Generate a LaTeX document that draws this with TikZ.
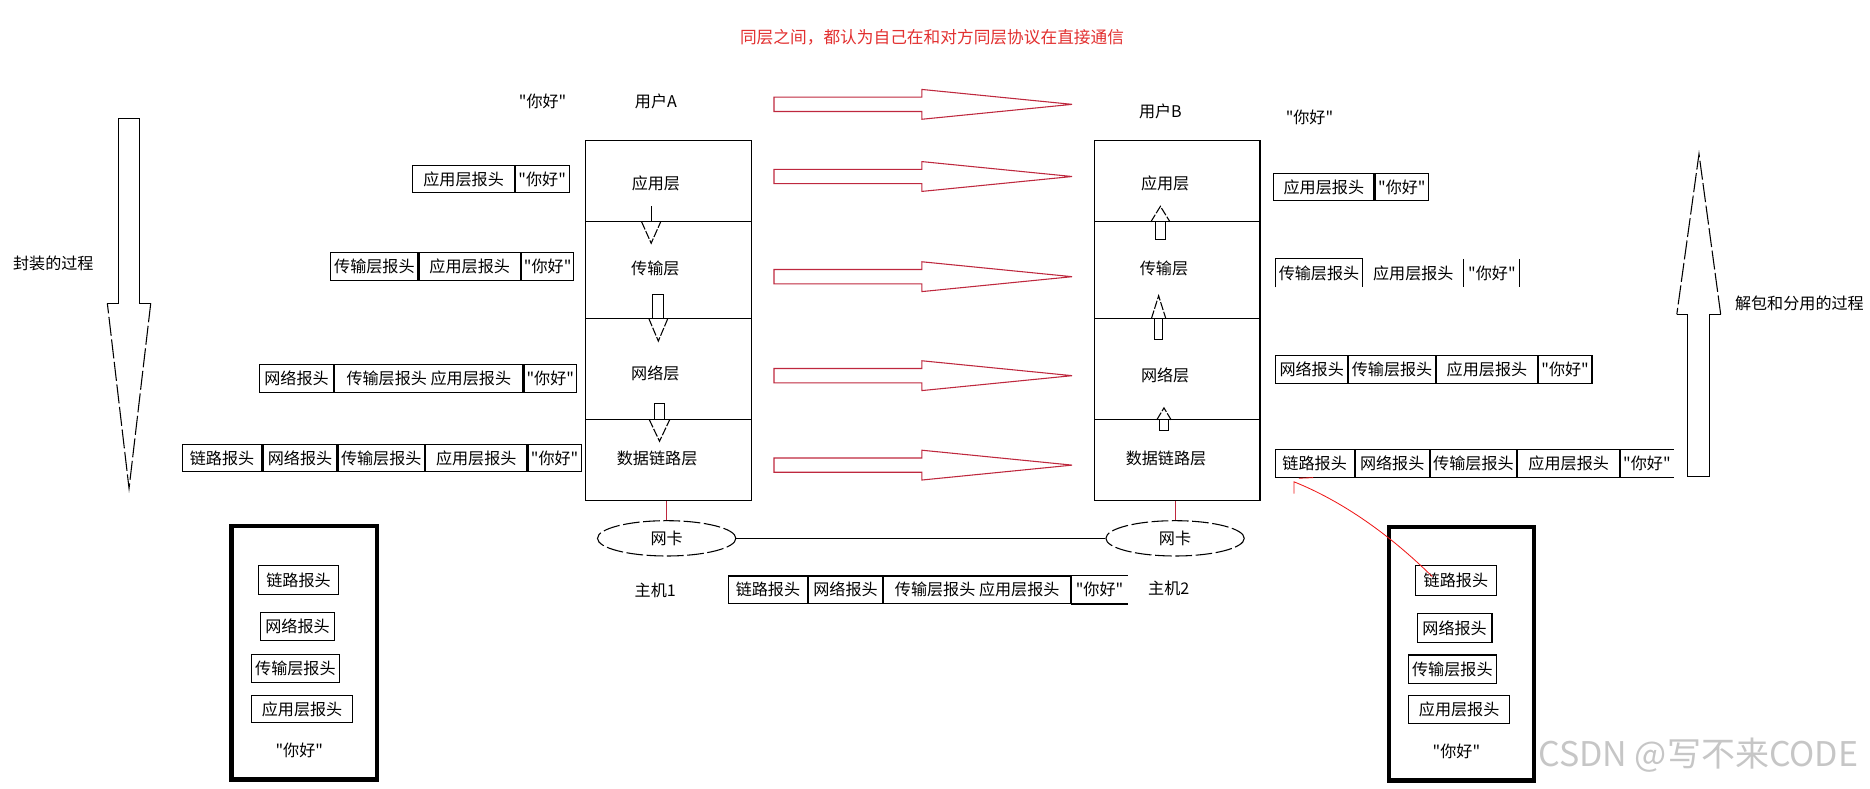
\documentclass[tikz,border=0pt]{standalone}
\usepackage{fontspec}
\newfontfamily\cjk{Noto Sans CJK SC}
\usetikzlibrary{shapes.geometric}

\definecolor{peerred}{RGB}{190,40,62}
\definecolor{notered}{RGB}{226,48,48}
\definecolor{linkred}{RGB}{238,24,24}

\tikzset{
  every node/.style={font=\cjk\fontsize{13.5pt}{15pt}\selectfont},
  laybox/.style={draw, minimum width=139pt, inner sep=0pt},
  hdr/.style={draw, inner sep=0pt, minimum height=23pt, anchor=west},
  bare/.style={inner sep=0pt, minimum height=23pt, anchor=west},
  holder/.style={draw, line width=3.6pt, inner sep=0pt},
  inbox/.style={draw, inner sep=0pt},
  nic/.style={draw, ellipse, dash pattern=on 14pt off 3pt, minimum width=116pt, minimum height=29.6pt, inner sep=0pt},
  peer/.style={draw=peerred},
  tipdash/.style={dash pattern=on 7pt off 1.5pt},
  bigdash/.style={dash pattern=on 16pt off 3pt}
}

\begin{document}
\begin{tikzpicture}[x=1pt, y=-1pt, line width=0.9pt]
            \useasboundingbox (0,0) rectangle (1568,661);

            % Titolo
            \node[text=notered, font=\cjk\fontsize{14pt}{16pt}\selectfont] (title) at (781.5,31) {同层之间，都认为自己在和对方同层协议在直接通信};

            % Utenti
            \node (msgA) at (455,85) {"你好"};
            \node (userA) at (550,85) {用户A};
            \node (userB) at (973,93.6) {用户B};
            \node (msgB) at (1098,98.4) {"你好"};

            % Host 1
            \node[laybox, minimum height=68pt] (A1) at (560.5,152) {};
            \node[laybox, minimum height=81pt] (A2) at (560.5,226.5) {};
            \node[laybox, minimum height=85pt] (A3) at (560.5,309.5) {};
            \node[laybox, minimum height=68pt] (A4) at (560.5,386) {};
            \node (tA1) at (550,153.7) {应用层};
            \node (tA2) at (549.5,225) {传输层};
            \node (tA3) at (549.5,313) {网络层};
            \node (tA4) at (551,384.3) {数据链路层};

            % Host 2
            \node[laybox, minimum height=68pt] (B1) at (987,152) {};
            \node[laybox, minimum height=81pt] (B2) at (987,226.5) {};
            \node[laybox, minimum height=85pt] (B3) at (987,309.5) {};
            \node[laybox, minimum height=68pt] (B4) at (987,386) {};
            \node (tB1) at (977,153.7) {应用层};
            \node (tB2) at (976,225) {传输层};
            \node (tB3) at (977,314.4) {网络层};
            \node (tB4) at (977.7,384.3) {数据链路层};

            % Frecce giu
            \draw (546,173) -- (546,186);
            \draw[tipdash] (538,186) -- (546,204) -- (554,186);
            \draw (547.5,267) -- (547.5,247) -- (556.5,247) -- (556.5,267);
            \draw[tipdash] (544,267) -- (552,286) -- (560,267);
            \draw (549,352) -- (549,338) -- (557,338) -- (557,352);
            \draw[tipdash] (544.5,352) -- (553,370) -- (561.5,352);

            % Frecce su
            \draw[tipdash] (965,186) -- (973,173) -- (981,186);
            \draw (969,186) -- (969,201) -- (977,201) -- (977,186);
            \draw[tipdash] (965.5,267) -- (971.5,248) -- (977.5,267);
            \draw (968,267) -- (968,285) -- (975,285) -- (975,267);
            \draw[tipdash] (970,352) -- (976,342) -- (982,352);
            \draw (972.5,352) -- (972.5,361) -- (979.5,361) -- (979.5,352);

            % Frecce rosse
            \foreach \yy in {87.5,148,232,315,390}
              \draw[peer] (649,{\yy-6}) -- (773,{\yy-6}) -- (773,{\yy-12.5}) -- (899,\yy)
                -- (773,{\yy+12.5}) -- (773,{\yy+6}) -- (649,{\yy+6}) -- cycle;

            % Incapsulamento
            \draw (90,254.3) -- (99.2,254.3) -- (99.2,99.2) -- (116.8,99.2) -- (116.8,254.3) -- (126.4,254.3);
            \draw[bigdash] (126.4,254.3) -- (108.2,409.5) -- (90,254.3);
            \node (enc) at (44.7,221) {封装的过程};

            % Decapsulamento
            \draw (1406,263.6) -- (1414.8,263.6) -- (1414.8,399.7) -- (1433.3,399.7) -- (1433.3,263.6) -- (1442.8,263.6);
            \draw[bigdash] (1442.8,263.6) -- (1424.6,129.1) -- (1406,263.6);
            \node[anchor=west] (dec) at (1451,254) {解包和分用的过程};

            % Pacchetti a sinistra
            \node[hdr, minimum width=85pt] (a1h) at (345.8,150) {应用层报头};
            \node[hdr, minimum width=45pt] (a1d) at (a1h.east) {"你好"};

            \node[hdr, minimum width=73pt] (a2t) at (277,223.5) {传输层报头};
            \node[hdr, minimum width=85pt] (a2h) at (a2t.east) {应用层报头};
            \node[hdr, minimum width=44pt] (a2d) at (a2h.east) {"你好"};

            \node[hdr, minimum width=62pt] (a3n) at (217.2,317.5) {网络报头};
            \node[hdr, minimum width=158pt] (a3t) at (a3n.east) {传输层报头\ 应用层报头};
            \node[hdr, minimum width=44pt] (a3d) at (a3t.east) {"你好"};

            \node[hdr, minimum width=67pt] (a4l) at (152.2,384) {链路报头};
            \node[hdr, minimum width=62pt] (a4n) at (a4l.east) {网络报头};
            \node[hdr, minimum width=72.5pt] (a4t) at (a4n.east) {传输层报头};
            \node[hdr, minimum width=85pt] (a4h) at (a4t.east) {应用层报头};
            \node[hdr, minimum width=44.6pt] (a4d) at (a4h.east) {"你好"};

            % Pacchetti a destra
            \node[hdr, minimum width=84pt] (b1h) at (1067.6,157) {应用层报头};
            \node[hdr, minimum width=45pt] (b1d) at (b1h.east) {"你好"};

            \node[bare, minimum width=72.3pt] (b2t) at (1069.4,229) {传输层报头};
            \node[bare, minimum width=84pt] (b2h) at (b2t.east) {应用层报头};
            \node[bare, minimum width=46pt] (b2d) at (b2h.east) {"你好"};
            \draw (b2t.south west) -- (b2t.north west) -- (b2t.north east) -- (b2t.south east);
            \draw (b2d.north west) -- (b2d.south west);
            \draw (b2d.north east) -- (b2d.south east);

            \node[hdr, minimum width=60pt] (b3n) at (1069.4,309.7) {网络报头};
            \node[hdr, minimum width=73pt] (b3t) at (b3n.east) {传输层报头};
            \node[hdr, minimum width=84.3pt] (b3h) at (b3t.east) {应用层报头};
            \node[hdr, minimum width=45pt] (b3d) at (b3h.east) {"你好"};

            \node[hdr, minimum width=66.2pt] (b4l) at (1068.8,388.5) {链路报头};
            \node[hdr, minimum width=62pt] (b4n) at (b4l.east) {网络报头};
            \node[hdr, minimum width=72.5pt] (b4t) at (b4n.east) {传输层报头};
            \node[hdr, minimum width=85.4pt] (b4h) at (b4t.east) {应用层报头};
            \node[bare, minimum width=44pt] (b4d) at (b4h.east) {"你好"};
            \draw (b4d.north east) -- (b4d.north west) -- (b4d.south west) -- (b4d.south east);

            % Schede di rete
            \node[nic] (nic1) at (559,451.4) {网卡};
            \node[nic] (nic2) at (985.3,451.4) {网卡};
            \draw (nic1) -- (nic2);
            \draw[peer] (nic1.north) -- (nic1.north |- A4.south);
            \draw[peer] (nic2.north) -- (nic2.north |- B4.south);
            \node (h1) at (549.4,494.7) {主机1};
            \node (h2) at (980,493.3) {主机2};

            % Pacchetto sul filo
            \node[hdr, minimum width=66.6pt] (wl) at (610.2,494.5) {链路报头};
            \node[hdr, minimum width=61.7pt] (wn) at (wl.east) {网络报头};
            \node[hdr, minimum width=157.3pt] (wt) at (wn.east) {传输层报头\ 应用层报头};
            \node[bare, minimum width=46pt] (wd) at (wt.east) {"你好"};
            \draw (wd.north east) -- (wd.north west) -- (wd.south west) -- (wd.south east);

            % Busta sinistra
            \node[holder, minimum width=122.4pt, minimum height=212.4pt] (lbag) at (255.2,547.4) {};
            \node[inbox, minimum width=67.4pt, minimum height=24pt] (lf1) at (250.3,486.4) {链路报头};
            \node[inbox, minimum width=62.5pt, minimum height=23pt] (lf2) at (249.5,525.2) {网络报头};
            \node[inbox, minimum width=73.8pt, minimum height=23.4pt] (lf3) at (247.7,560.4) {传输层报头};
            \node[inbox, minimum width=85pt, minimum height=22.4pt] (lf4) at (253.3,594.5) {应用层报头};
            \node (lf5) at (251,629) {"你好"};

            % Busta destra
            \node[holder, minimum width=121.9pt, minimum height=212.5pt] (rbag) at (1225.5,548.3) {};
            \node[inbox, minimum width=67.9pt, minimum height=25pt] (rf1) at (1220.8,487) {链路报头};
            \node[inbox, minimum width=62.7pt, minimum height=24.3pt] (rf2) at (1219.7,526.5) {网络报头};
            \node[inbox, minimum width=73.8pt, minimum height=23.8pt] (rf3) at (1217.8,561.1) {传输层报头};
            \node[inbox, minimum width=85.1pt, minimum height=23pt] (rf4) at (1223.5,595) {应用层报头};
            \node (rf5) at (1221.2,630.3) {"你好"};

            % Freccia rossa
            \coordinate (rtip) at (1085,404);
            \coordinate (rend) at (1201,483.5);
            \draw[linkred, line width=0.7pt] (rend) .. controls (1165,448) and (1125,420) .. (rtip) -- (1085,414);
            \draw[linkred, line width=0.7pt] (1089,401) -- (1101,400.5);

            % Firma
            \node[text=gray!45, font=\cjk\fontsize{28.5pt}{30pt}\selectfont] (wm) at (1424,633) {CSDN @写不来CODE};
        \end{tikzpicture}
\end{document}
